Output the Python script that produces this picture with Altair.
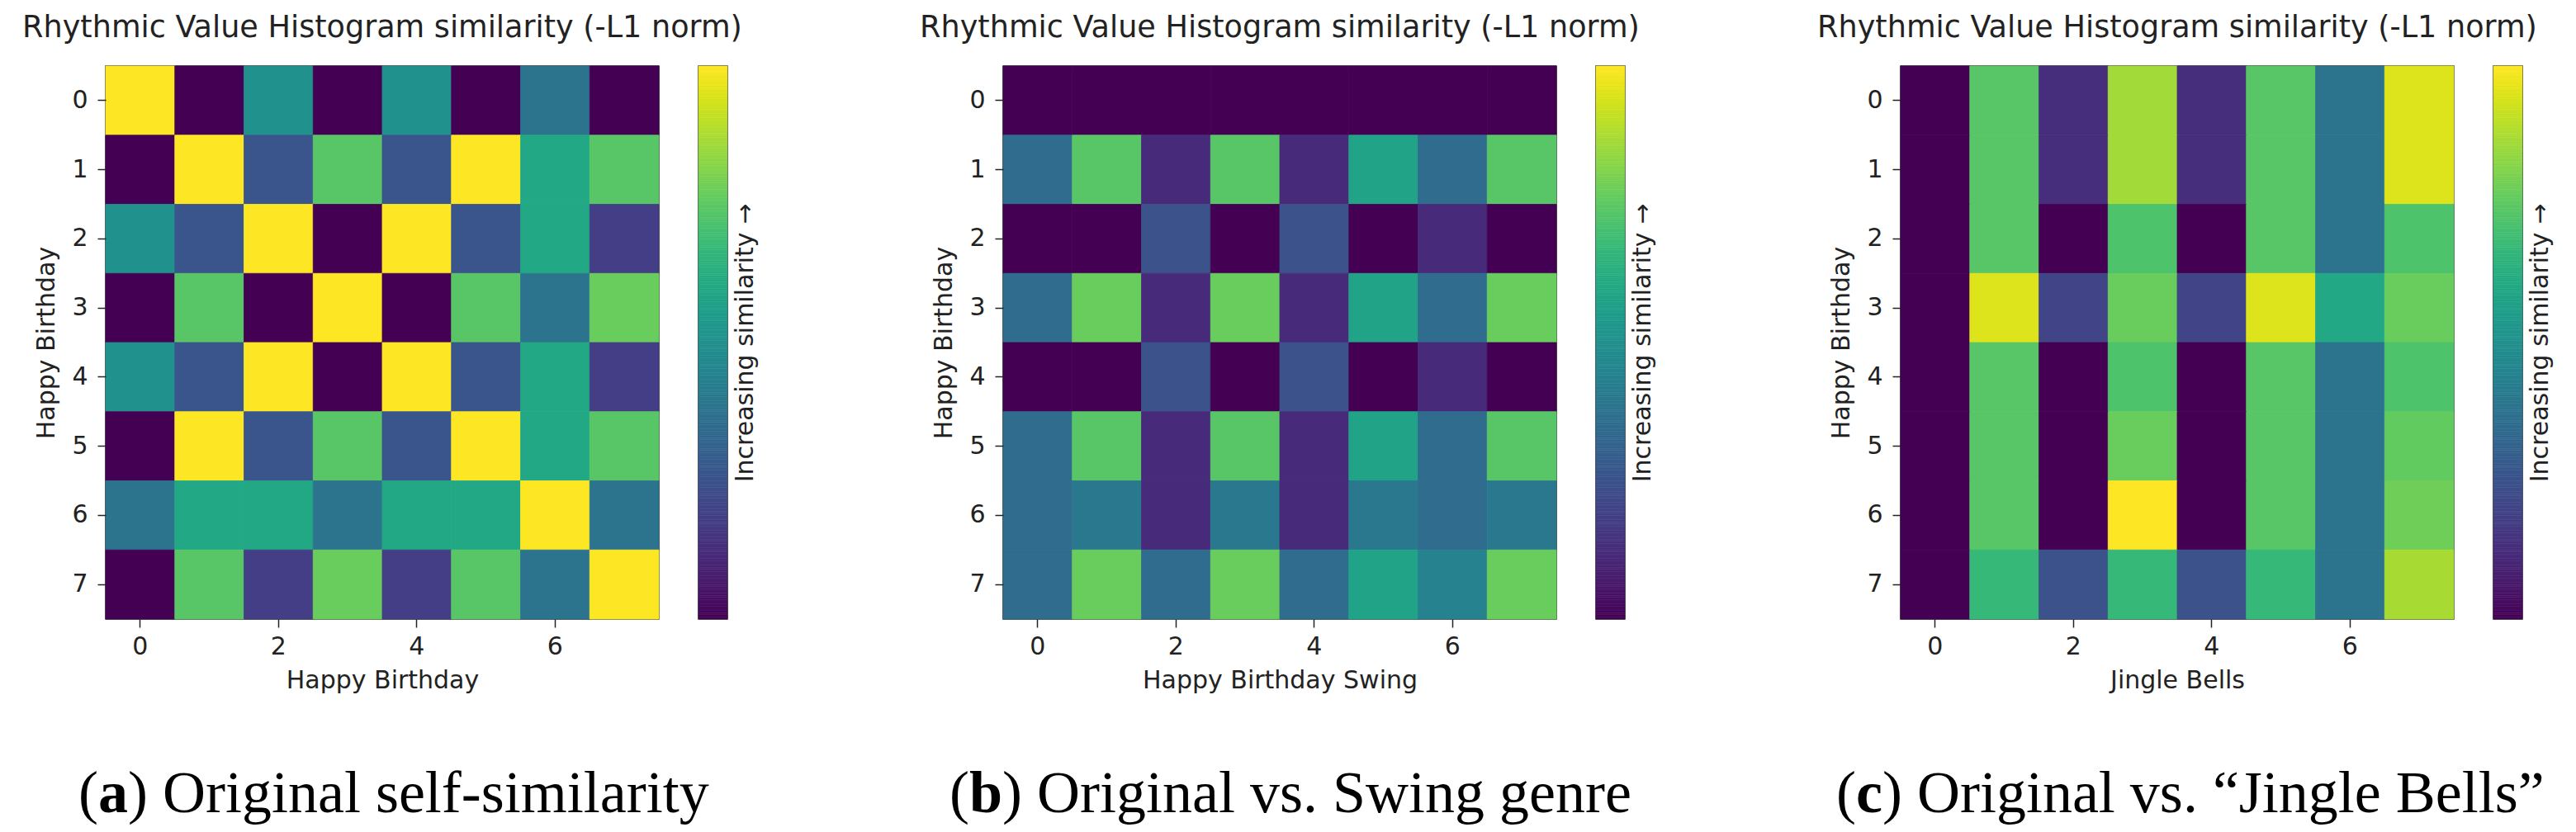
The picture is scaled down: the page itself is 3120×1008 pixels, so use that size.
import altair as alt
import pandas as pd
import numpy as np

# ---------------- data ----------------
ROWS = [0, 1, 2, 3, 4, 5, 6, 7]
COLS = [0, 1, 2, 3, 4, 5, 6, 7]
X_TICKS = [0, 2, 4, 6]

# (a) Happy Birthday vs Happy Birthday
P1 = [
    [1.00, 0.00, 0.50, 0.00, 0.50, 0.00, 0.38, 0.00],
    [0.00, 1.00, 0.26, 0.74, 0.26, 1.00, 0.60, 0.74],
    [0.50, 0.26, 1.00, 0.00, 1.00, 0.26, 0.60, 0.18],
    [0.00, 0.74, 0.00, 1.00, 0.00, 0.74, 0.38, 0.77],
    [0.50, 0.26, 1.00, 0.00, 1.00, 0.26, 0.60, 0.18],
    [0.00, 1.00, 0.26, 0.74, 0.26, 1.00, 0.60, 0.74],
    [0.38, 0.60, 0.60, 0.38, 0.60, 0.60, 1.00, 0.38],
    [0.00, 0.74, 0.18, 0.77, 0.18, 0.74, 0.38, 1.00],
]
# (b) Happy Birthday vs Happy Birthday Swing
P2 = [
    [0.00, 0.00, 0.00, 0.00, 0.00, 0.00, 0.00, 0.00],
    [0.35, 0.74, 0.12, 0.74, 0.12, 0.58, 0.35, 0.74],
    [0.00, 0.00, 0.25, 0.00, 0.25, 0.00, 0.12, 0.00],
    [0.35, 0.77, 0.12, 0.77, 0.12, 0.58, 0.35, 0.77],
    [0.00, 0.00, 0.25, 0.00, 0.25, 0.00, 0.12, 0.00],
    [0.35, 0.74, 0.12, 0.74, 0.12, 0.58, 0.35, 0.74],
    [0.35, 0.40, 0.12, 0.40, 0.12, 0.40, 0.35, 0.40],
    [0.35, 0.77, 0.35, 0.77, 0.35, 0.58, 0.44, 0.77],
]
# (c) Happy Birthday vs Jingle Bells
P3 = [
    [0.00, 0.74, 0.13, 0.86, 0.13, 0.74, 0.38, 0.95],
    [0.00, 0.74, 0.13, 0.86, 0.13, 0.74, 0.38, 0.95],
    [0.00, 0.74, 0.00, 0.72, 0.00, 0.74, 0.38, 0.72],
    [0.00, 0.95, 0.20, 0.77, 0.20, 0.95, 0.60, 0.77],
    [0.00, 0.74, 0.00, 0.72, 0.00, 0.74, 0.38, 0.72],
    [0.00, 0.74, 0.00, 0.77, 0.00, 0.74, 0.38, 0.76],
    [0.00, 0.74, 0.00, 1.00, 0.00, 0.74, 0.38, 0.78],
    [0.00, 0.67, 0.25, 0.67, 0.25, 0.67, 0.38, 0.87],
]

TITLE = "Rhythmic Value Histogram similarity (-L1 norm)"
Y_TITLE = "Happy Birthday"
X_TITLES = ["Happy Birthday", "Happy Birthday Swing", "Jingle Bells"]
CB_TITLE = "Increasing similarity \u2192"
CAP_LETTERS = ["a", "b", "c"]
CAP_TEXTS = ["Original self-similarity", "Original vs. Swing genre",
             "Original vs. \u201cJingle Bells\u201d"]

# ---------------- layout / style ----------------
W = 670
CBW = 35
GAP = 48
SPACER = 238
SANS = "DejaVu Sans"
SERIF = "Liberation Serif"
INK = "#222222"
CAP_SIZE = 72
CAP_Y = 904
CAP_START = [-33, -65, -78]
BOLD_W = {"a": 0.5, "b": 0.556, "c": 0.444}

cscale = alt.Scale(scheme="viridis", domain=[0, 1])


def heatmap(mat, xtitle, letter, text, start):
    df = pd.DataFrame(
        [{"row": r, "col": c, "v": mat[r][c]} for r in ROWS for c in COLS]
    )
    rect = alt.Chart(df).mark_rect(strokeWidth=0.8).encode(
        x=alt.X("col:O", title=xtitle,
                scale=alt.Scale(paddingInner=0, paddingOuter=0),
                axis=alt.Axis(values=X_TICKS, labelAngle=0,
                              labelPadding=8, titlePadding=11)),
        y=alt.Y("row:O", title=Y_TITLE,
                scale=alt.Scale(paddingInner=0, paddingOuter=0),
                axis=alt.Axis(labelPadding=12, titlePadding=15)),
        color=alt.Color("v:Q", scale=cscale, legend=None),
        stroke=alt.Stroke("v:Q", scale=cscale, legend=None),
    )
    x_paren = start
    x_letter = start + 0.333 * CAP_SIZE
    x_rest = x_letter + BOLD_W[letter] * CAP_SIZE

    def piece(t, x, weight):
        return alt.Chart(pd.DataFrame({"t": [t]})).mark_text(
            align="left", baseline="alphabetic", font=SERIF,
            fontSize=CAP_SIZE, fontWeight=weight, color="black",
        ).encode(text="t:N", x=alt.value(x), y=alt.value(CAP_Y))

    caps = [
        piece("(", x_paren, "normal"),
        piece(letter, x_letter, "bold"),
        piece(") " + text, x_rest, "normal"),
    ]
    return alt.layer(rect, *caps).properties(
        width=W, height=W,
        title=alt.TitleParams(
            TITLE, font=SANS, fontSize=36.6, fontWeight="normal", color=INK,
            anchor="middle", frame="group", baseline="alphabetic", offset=-2,
        ),
    )


def colorbar():
    n = 256
    edges = np.linspace(0, 1, n + 1)
    df = pd.DataFrame({"lo": edges[:-1], "hi": edges[1:],
                       "mid": (edges[:-1] + edges[1:]) / 2})
    return alt.Chart(df).mark_rect(strokeWidth=0.6).encode(
        x=alt.value(0), x2=alt.value(CBW),
        y=alt.Y("lo:Q", scale=alt.Scale(domain=[0, 1], nice=False, zero=False),
                axis=alt.Axis(orient="right", labels=False, ticks=False,
                              domain=False, grid=False, title=CB_TITLE,
                              titleAngle=270, titleBaseline="top",
                              titlePadding=6)),
        y2="hi:Q",
        color=alt.Color("mid:Q", scale=cscale, legend=None),
        stroke=alt.Stroke("mid:Q", scale=cscale, legend=None),
    ).properties(width=CBW, height=W)


def spacer():
    return alt.Chart(pd.DataFrame({"z": [0]})).mark_point(opacity=0).encode(
        x=alt.value(0), y=alt.value(0)
    ).properties(width=SPACER, height=W,
                 view=alt.ViewBackground(stroke="transparent"))


panels = []
for i, (mat, xt) in enumerate(zip([P1, P2, P3], X_TITLES)):
    panels.append(heatmap(mat, xt, CAP_LETTERS[i], CAP_TEXTS[i], CAP_START[i]))
    panels.append(colorbar())
    if i < 2:
        panels.append(spacer())

chart = alt.hconcat(*panels, spacing=GAP, bounds="flush").properties(
    padding={"left": 18, "top": 7, "right": 5, "bottom": 0},
    background="white",
).configure_view(
    stroke=INK, strokeWidth=1.5
).configure_axis(
    labelFont=SANS, labelFontSize=30, labelColor=INK,
    titleFont=SANS, titleFontSize=30, titleFontWeight="normal", titleColor=INK,
    tickSize=10, tickWidth=1.5, tickColor=INK, domain=False, grid=False,
)

chart.save("out.html", embed_options={"renderer": "svg", "actions": False})
